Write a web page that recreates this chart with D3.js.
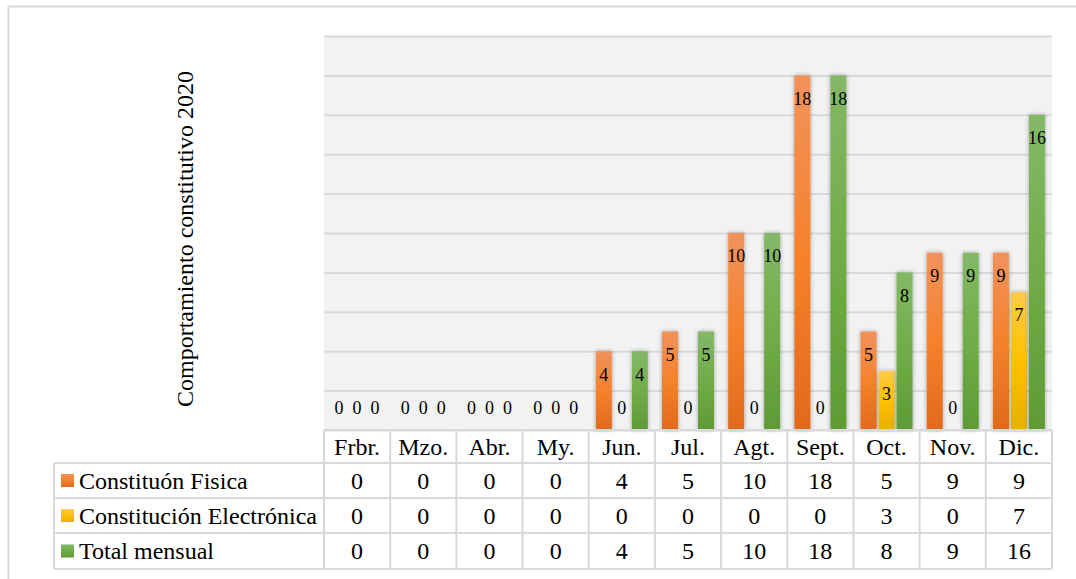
<!DOCTYPE html>
<html>
<head>
<meta charset="utf-8">
<script src="https://cdn.jsdelivr.net/npm/d3@7"></script>
<style>
	body { margin: 0; background: #fff; }
</style>
</head>
<body>
<div id="chart"></div>
<script>
// chart data
var months = ["Frbr.", "Mzo.", "Abr.", "My.", "Jun.", "Jul.", "Agt.", "Sept.", "Oct.", "Nov.", "Dic."];
var fisica = [0, 0, 0, 0, 4, 5, 10, 18, 5, 9, 9];
var electronica = [0, 0, 0, 0, 0, 0, 0, 0, 3, 0, 7];
var total = [0, 0, 0, 0, 4, 5, 10, 18, 8, 9, 16];
var seriesNames = ["Constituón Fisica", "Constitución Electrónica", "Total mensual"];
var yTicks = [0, 2, 4, 6, 8, 10, 12, 14, 16, 18, 20];
var yTitle = "Comportamiento constitutivo 2020";

var W = 1076, H = 579;
var plot = {left: 324, right: 1052, top: 36, bottom: 430};
var legendLeft = 54;
var rowEdges = [430, 463, 498, 533, 569];
var FONT = "'Liberation Serif', 'Times New Roman', Times, 'DejaVu Serif', serif";

var series = [
	{name: seriesNames[0], values: fisica, id: "gFis", c: ["#f1925c", "#f5822c", "#e06a1c"]},
	{name: seriesNames[1], values: electronica, id: "gEle", c: ["#ffca4c", "#ffc000", "#e6b000"]},
	{name: seriesNames[2], values: total, id: "gTot", c: ["#84b868", "#70ad47", "#5e9b35"]}
];

var svg = d3.select("#chart").append("svg")
	.attr("width", W)
	.attr("height", H)
	.attr("font-family", FONT)
	.style("font-family", FONT);

var defs = svg.append("defs");
series.forEach(function(s) {
	var g = defs.append("linearGradient")
		.attr("id", s.id)
		.attr("x1", 0).attr("y1", 0).attr("x2", 0).attr("y2", 1);
	g.append("stop").attr("offset", "0%").attr("stop-color", s.c[0]);
	g.append("stop").attr("offset", "50%").attr("stop-color", s.c[1]);
	g.append("stop").attr("offset", "100%").attr("stop-color", s.c[2]);
});
defs.append("filter")
	.attr("id", "shadow")
	.attr("x", "-50%").attr("y", "-10%").attr("width", "200%").attr("height", "120%")
	.append("feDropShadow")
	.attr("dx", 0).attr("dy", 0)
	.attr("stdDeviation", 2)
	.attr("flood-color", "#000")
	.attr("flood-opacity", 0.35);

// outer frame
svg.append("rect")
	.attr("x", 8.5).attr("y", 6.5)
	.attr("width", W + 10).attr("height", H + 10)
	.attr("fill", "none")
	.attr("stroke", "#d9d9d9")
	.attr("stroke-width", 2);

// scales
var x = d3.scaleBand().domain(months).range([plot.left, plot.right]);
var xs = d3.scaleBand().domain(d3.range(3)).range([0, x.bandwidth()])
	.paddingInner(0.111).paddingOuter(0.394);
var y = d3.scaleLinear().domain([0, 20]).range([plot.bottom, plot.top]);

// plot background
svg.append("rect")
	.attr("x", plot.left).attr("y", plot.top)
	.attr("width", plot.right - plot.left)
	.attr("height", plot.bottom - plot.top)
	.attr("fill", "#f2f2f2");

// gridlines
var yAxis = d3.axisLeft(y).tickValues(yTicks)
	.tickSize(-(plot.right - plot.left)).tickFormat("");
var gGrid = svg.append("g")
	.attr("transform", "translate(" + plot.left + ",0)")
	.call(yAxis);
gGrid.select(".domain").remove();
gGrid.selectAll(".tick line").attr("stroke", "#d9d9d9").attr("stroke-width", 2);

// bars
var gBars = svg.append("g");
series.forEach(function(s, si) {
	gBars.append("g").selectAll("rect")
		.data(s.values.map(function(v, i) { return {m: months[i], v: v}; })
			.filter(function(d) { return d.v > 0; }))
		.join("rect")
		.attr("x", function(d) { return x(d.m) + xs(si); })
		.attr("y", function(d) { return y(d.v); })
		.attr("width", xs.bandwidth())
		.attr("height", function(d) { return y(0) - y(d.v); })
		.attr("fill", "url(#" + s.id + ")")
		.attr("filter", "url(#shadow)");
});

// bar labels
series.forEach(function(s, si) {
	gBars.append("g").selectAll("text")
		.data(s.values.map(function(v, i) { return {m: months[i], v: v}; }))
		.join("text")
		.attr("x", function(d) { return x(d.m) + xs(si) + xs.bandwidth() / 2; })
		.attr("y", function(d) { return Math.min(y(d.v) + 23, y(0) - 22); })
		.attr("dy", "0.35em")
		.attr("text-anchor", "middle")
		.attr("font-family", FONT)
		.style("font-size", "18px")
		.text(function(d) { return d.v; });
});

// y title
svg.append("text")
	.attr("transform", "translate(185,239) rotate(-90)")
	.attr("text-anchor", "middle")
	.attr("dy", "0.35em")
	.attr("font-family", FONT)
	.style("font-size", "24px")
	.text(yTitle);

// data table
var gTab = svg.append("g").attr("font-family", FONT);
var line = function(x1, y1, x2, y2) {
	gTab.append("line")
		.attr("x1", x1).attr("y1", y1).attr("x2", x2).attr("y2", y2)
		.attr("stroke", "#d9d9d9").attr("stroke-width", 2);
};
// horizontal rules
line(plot.left, rowEdges[0], plot.right, rowEdges[0]);
for (var r = 1; r < rowEdges.length; r++) {
	line(legendLeft, rowEdges[r], plot.right, rowEdges[r]);
}
// vertical rules
line(legendLeft, rowEdges[1], legendLeft, rowEdges[4]);
months.forEach(function(m) { line(x(m), rowEdges[0], x(m), rowEdges[4]); });
line(plot.right, rowEdges[0], plot.right, rowEdges[4]);

// header
gTab.selectAll("text.hdr")
	.data(months)
	.join("text")
	.attr("class", "hdr")
	.attr("x", function(d) { return x(d) + x.bandwidth() / 2; })
	.attr("y", (rowEdges[0] + rowEdges[1]) / 2)
	.attr("dy", "0.35em")
	.attr("text-anchor", "middle")
	.style("font-size", "24px")
	.text(function(d) { return d; });

series.forEach(function(s, si) {
	var yc = (rowEdges[si + 1] + rowEdges[si + 2]) / 2;
	gTab.append("rect")
		.attr("x", 61).attr("y", yc - 6.5)
		.attr("width", 13).attr("height", 13)
		.attr("fill", "url(#" + s.id + ")");
	gTab.append("text")
		.attr("x", 79).attr("y", yc)
		.attr("dy", "0.35em")
		.style("font-size", "24px")
		.text(s.name);
	gTab.append("g").selectAll("text")
		.data(s.values.map(function(v, i) { return {m: months[i], v: v}; }))
		.join("text")
		.attr("x", function(d) { return x(d.m) + x.bandwidth() / 2; })
		.attr("y", yc)
		.attr("dy", "0.35em")
		.attr("text-anchor", "middle")
		.style("font-size", "24px")
		.text(function(d) { return d.v; });
});
</script>
</body>
</html>
